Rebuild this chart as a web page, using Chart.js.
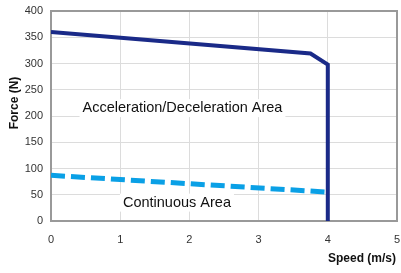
<!DOCTYPE html>
<html><head><meta charset="utf-8">
<script src="https://cdn.jsdelivr.net/npm/chart.js@4"></script>
<style>html,body{margin:0;padding:0;background:#fff}#w{width:401px;height:273px}</style>
</head><body><div id="w"><canvas id="c"></canvas></div>
<script>
const peakSpeed = [0, 3.75, 4, 4];
const peakForce = [360, 319, 298, 0];
const contSpeed = [0, 4];
const contForce = [87, 55];
const xTicks = [0, 1, 2, 3, 4, 5];
const yTicks = [0, 50, 100, 150, 200, 250, 300, 350, 400];
const labels = [
  {text: 'Acceleration/Deceleration Area', x: 1.9, y: 215},
  {text: 'Continuous Area', x: 1.82, y: 35}
];

const decor = {
  id: 'decor',
  beforeDatasetsDraw(chart) {
    const {ctx, chartArea: a, scales} = chart;
    ctx.save();
    ctx.font = '14.5px "Liberation Sans", Arial, sans-serif';
    ctx.textAlign = 'center'; ctx.textBaseline = 'middle';
    labels.forEach(l => {
      const px = scales.x.getPixelForValue(l.x), py = scales.y.getPixelForValue(l.y);
      const w = ctx.measureText(l.text).width;
      ctx.fillStyle = '#fff';
      ctx.fillRect(px - w/2 - 3, py - 9, w + 6, 18);
      ctx.fillStyle = '#111';
      ctx.fillText(l.text, px, py);
    });
    ctx.strokeStyle = '#999'; ctx.lineWidth = 2;
    ctx.strokeRect(a.left, a.top, a.right - a.left, a.bottom - a.top);
    ctx.restore();
  },
  afterDraw(chart) {
    const {ctx} = chart;
    ctx.save();
    ctx.fillStyle = '#111';
    ctx.font = 'bold 12px "Liberation Sans", Arial, sans-serif';
    ctx.textAlign = 'center'; ctx.textBaseline = 'middle';
    ctx.fillText('Speed (m/s)', 362, 259);
    ctx.translate(15, 103); ctx.rotate(-Math.PI/2);
    ctx.fillText('Force (N)', 0, 0);
    ctx.restore();
  }
};

new Chart(document.getElementById('c'), {
  type: 'scatter',
  data: {
    datasets: [
      {data: contSpeed.map((s,i)=>({x:s,y:contForce[i]})), showLine:true, borderColor:'#0aa0e6', borderWidth:5, borderDash:[14,6], pointRadius:0, fill:false, order:2},
      {data: peakSpeed.map((s,i)=>({x:s,y:peakForce[i]})), showLine:true, borderColor:'#1a2a88', borderWidth:4, pointRadius:0, fill:false, borderJoinStyle:'miter', order:1}
    ]
  },
  options: {
    responsive:true, maintainAspectRatio:false, animation:false,
    layout:{padding:{top:11, right:4, left:0, bottom:0}},
    plugins:{legend:{display:false}, tooltip:{enabled:false}},
    scales:{
      x:{type:'linear', min:0, max:5,
        afterBuildTicks(s){ s.ticks = xTicks.map(v=>({value:v})); },
        afterFit(s){ s.height = 52; s.paddingLeft = 0; s.paddingRight = 0; },
        grid:{color:'#dcdcdc', drawTicks:false, lineWidth:1},
        border:{display:false},
        ticks:{color:'#333', font:{size:11, family:'"Liberation Sans", Arial, sans-serif'}, padding:12, maxRotation:0}
      },
      y:{type:'linear', min:0, max:400,
        afterBuildTicks(s){ s.ticks = yTicks.map(v=>({value:v})); },
        afterFit(s){ s.width = 51; s.paddingTop = 0; s.paddingBottom = 0; },
        grid:{color:'#dcdcdc', drawTicks:false, lineWidth:1},
        border:{display:false},
        ticks:{color:'#333', font:{size:11, family:'"Liberation Sans", Arial, sans-serif'}, padding:8}
      }
    }
  },
  plugins:[decor]
});
</script></body></html>
